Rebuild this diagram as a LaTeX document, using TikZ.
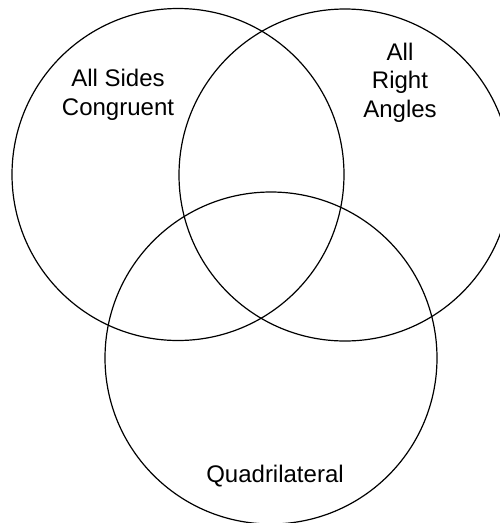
\documentclass[tikz,border=0pt]{standalone}
\usepackage{fontspec}
\setmainfont{Liberation Sans}

\begin{document}
\begin{tikzpicture}[x=1pt, y=-1pt,
    set/.style={circle, draw, line width=1.2pt, minimum size=332pt, inner sep=0pt},
    lbl/.style={align=center, anchor=base, font=\fontsize{24}{28.5}\selectfont}]
  \useasboundingbox (0,0) rectangle (500,523);
  \clip (0,0) rectangle (500,523);
  % the three sets
  \node[set] (sides) at (178,174.5) {};
  \node[set] (right) at (345,175) {};
  \node[set] (quad) at (271,358) {};
  % labels (anchored on the baseline of the last line)
  \node[lbl] (sideslbl) at (118,115) {All Sides\\Congruent};
  \node[lbl] (rightlbl) at (400,117) {All\\Right\\Angles};
  \node[lbl] (quadlbl) at (275,482) {Quadrilateral};
\end{tikzpicture}
\end{document}
